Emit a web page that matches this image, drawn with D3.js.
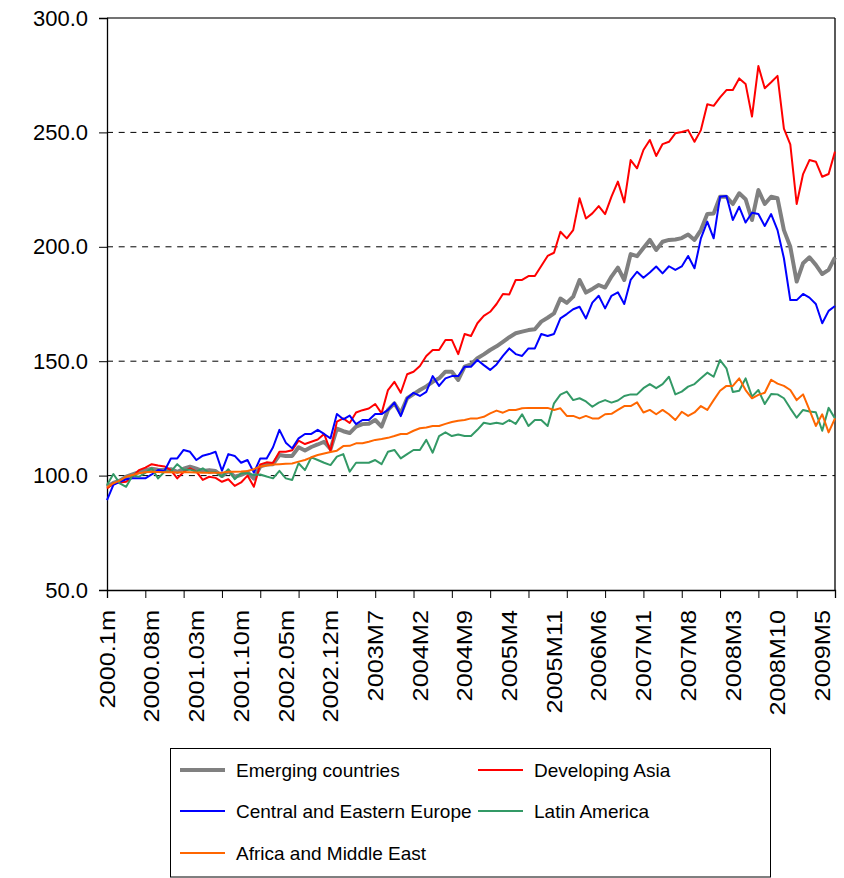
<!DOCTYPE html>
<html><head><meta charset="utf-8">
<script src="https://cdn.jsdelivr.net/npm/d3@7"></script>
<style>body{margin:0;background:#fff;}svg{display:block;font-family:"Liberation Sans",Arial,sans-serif;}</style>
</head><body><svg id="c" width="844" height="878"></svg>
<script>
// Monthly categories 2000M1 .. 2009M7 (115 points); labels every 7 months
const tickLabels = ["2000.1m","2000.08m","2001.03m","2001.10m","2002.05m","2002.12m","2003M7","2004M2","2004M9","2005M4","2005M11","2006M6","2007M1","2007M8","2008M3","2008M10","2009M5"];
const yTicks = [50,100,150,200,250,300];
const seriesNames = ["Emerging countries","Developing Asia","Central and Eastern Europe","Latin America","Africa and Middle East"];

const emerging = [95.1,96.8,97.8,99.5,100.5,101.5,102.4,103,102.6,102.5,102.8,101.6,103,103.9,103,102,102.4,102,99.8,102,99.5,100.3,101.5,98.7,104,104.8,105,109,108.6,108.6,112.4,111,112.5,113.6,114.8,111.6,120.5,119.4,118.6,121.4,122.5,122.7,124.3,121.4,128.7,131.6,127.2,133.8,135.6,137.4,139,141,142.5,145.4,145.4,141.8,147.6,148.6,151.3,153,154.9,156.5,158.5,160.5,162.2,162.9,163.6,164,167.3,169,170.9,177.4,175.5,178.2,185.5,180,181.6,183.3,182.2,187,190.9,185.5,196.8,195.9,199.5,203,198.6,202.2,203,203.2,203.8,205.4,203,207.3,214.3,214.6,221.9,221.9,218.7,223.4,220.8,211.7,224.8,218.7,221.9,221.2,207.3,200,184.8,192.8,195.4,192.1,188.1,189.9,195.4];
const devAsia = [94.4,96.6,97,97.3,99.5,102.4,103.5,105,104.4,104,102.4,98.8,101.6,103.2,101.7,98.1,99.5,99,97.3,98.4,95.5,97,100,95.1,104.9,105.8,105.5,110.4,110.4,111.1,115.3,113.8,114.8,115.8,118.2,110.7,123.6,125,123,127.6,128.6,129.3,131.3,127.2,137.4,141,136.2,144.3,145.4,147.9,152.3,154.9,154.9,159.3,159.3,153.1,161.9,161,166.6,169.8,171.6,175,179.4,179.2,185.5,185.5,187.2,187.2,191.6,196,197.4,206.6,203.7,207.3,221.2,212.4,214.6,217.8,214.3,221.9,228.5,219.4,237.9,234.3,242.3,246.7,239.7,244.9,245.9,249.6,250.2,251,245.9,251,262.3,261.6,265.3,268.5,268.5,273.6,271.2,256.9,279,269.3,271.9,274.7,251.6,244.8,218.7,231.8,237.9,237.2,230.6,231.8,241.6];
const ceEurope = [89.3,95.9,97.3,98.4,98.8,98.8,98.8,100.5,102.4,102,107.5,107.5,111.2,110.4,106.8,108.7,109.4,110.4,102.1,109.4,108.6,105.6,106.8,101.3,107.5,107.5,112.4,120,114.4,111.9,116.3,118.2,118.2,120,118.2,116.3,126.9,124.6,126.2,122.5,124.3,124.3,126.9,126.9,128.7,131.9,126,133.8,136.2,134.8,136.6,143.5,139.2,142.5,143.5,143.5,147.6,147.6,150.5,148.3,146.2,148.6,152.3,155.6,153.1,152.3,155.6,155.6,161.9,161,161.9,168.7,170.6,172.7,173.8,168.7,175.6,178.6,173.1,178.6,180.1,175,185.5,189.1,186.5,188.8,191.4,188.4,191.5,189.9,191.4,196,190.6,203.7,211,203.7,221.9,222.2,211.7,217.5,210.6,214.9,214.3,209.1,214.3,207.3,195,176.7,176.7,179.4,177.8,175,166.6,172,174.1];
const latAm = [95.9,100.7,96.6,95.1,100,99.5,101.2,103.2,98.8,101.7,101.7,105,102.6,102.6,101.7,103.2,101.2,101.6,99.5,102.8,98.4,101,101,100.3,100.5,99.6,98.8,102.1,98.8,98.1,105.4,102.4,108,106.8,105.6,104.6,108.3,109.4,101.7,105.6,105.6,105.6,106.8,105,110.4,111.2,107.5,109.4,111.2,111.2,115.6,110,117.3,118.9,117.3,118,117.3,117.3,120,123.1,122.6,123.1,122.6,124.3,122.6,126.8,121.7,124.3,124.3,121.7,131.6,135.4,136.7,133,133.8,132.4,130.1,131.9,133,131.9,132.8,134.8,135.5,135.5,138.2,140,138.2,140,143.2,135.5,136.7,138.9,140,142.5,145,143.2,150.5,146.9,136.5,137.1,142.5,134.5,137.4,131.3,135.7,135.5,133.8,129.4,125.3,128.7,128,127.7,119.6,129.6,125];
const afrME = [94.9,96.6,97.8,99.5,100.3,101,101.5,101.7,101.6,101.5,101.5,101.4,101.5,101.5,101.4,101.3,101.3,101.3,101.3,101.7,101.7,101.8,102,102.8,104,104.4,104.8,105,105.2,105.3,106.1,106.8,108,109,109.7,110.3,110.9,112.9,113,114.1,114.1,114.8,115.6,116,116.5,117.3,118.2,118.2,119.6,120.7,121,121.7,121.7,122.6,123.4,124,124.3,125,125,125.7,127.2,128.4,127.5,128.7,128.7,129.4,129.6,129.6,129.6,129.6,128.7,129.4,126.1,126.1,125,126.1,125,125,126.8,127,128.7,130.4,130.4,132,127.6,128.7,126.8,128.7,126.8,124.3,127.9,126.1,127.6,130.4,128.7,133,137.1,139.2,139.2,142.5,137.4,133.8,135.3,136.2,141.9,140.2,139.2,137.4,133,135.5,128.7,121.7,126.8,118.9,125];

const seriesValues = [emerging, devAsia, ceEurope, latAm, afrME];
const colors = ["#808080","#FF0000","#0000FF","#339966","#FF6600"];
const widths = [4,2,2,2,2];

const svg = d3.select("#c");
const L=107, R=835, T=18, B=590;
const n = emerging.length;
const x = d3.scaleLinear().domain([0, n-1]).range([L, R]);
const y = d3.scaleLinear().domain([50, 300]).range([B, T]);

// gridlines
svg.append("g").selectAll("line").data(yTicks.filter(v=>v>50 && v<300)).join("line")
  .attr("x1", L).attr("x2", R).attr("y1", d=>y(d)).attr("y2", d=>y(d))
  .attr("stroke","#000").attr("stroke-width",1).attr("stroke-dasharray","6,5.7");

// plot border top/right
svg.append("line").attr("x1",L).attr("x2",R).attr("y1",T).attr("y2",T).attr("stroke","#444").attr("stroke-width",1.3);
svg.append("line").attr("x1",R).attr("x2",R).attr("y1",T).attr("y2",B).attr("stroke","#000").attr("stroke-width",1.3);

// y axis
const yAxis = d3.axisLeft(y).tickValues(yTicks).tickSize(8).tickPadding(11).tickFormat(d3.format(".1f"));
const gy = svg.append("g").attr("transform",`translate(${L},0)`).call(yAxis);
gy.select(".domain").attr("stroke","#000").attr("stroke-width",1.3);
gy.selectAll(".tick line").attr("stroke","#000");
gy.selectAll("text").attr("font-size",22).attr("fill","#000").attr("font-family","Liberation Sans, Arial, sans-serif");

// x axis
const xAxis = d3.axisBottom(x).tickValues(d3.range(0, n, 6)).tickSize(8).tickFormat("");
const gx = svg.append("g").attr("transform",`translate(0,${B})`).call(xAxis);
gx.select(".domain").attr("stroke","#000").attr("stroke-width",1.3);
gx.selectAll(".tick line").attr("stroke","#000");

// x labels
const xl = svg.append("g").selectAll("text").data(tickLabels).join("text")
  .attr("transform",(d,i)=>`translate(${x(i*7)},610) rotate(-90)`)
  .attr("text-anchor","end").attr("dy","0.35em")
  .attr("font-size",22).attr("fill","#000").text(d=>d);
xl.each(function(){ const l=this.getComputedTextLength(); d3.select(this).attr("textLength", l*1.15).attr("lengthAdjust","spacingAndGlyphs"); });

// lines
const line = d3.line().x((d,i)=>x(i)).y(d=>y(d)).curve(d3.curveLinear);
svg.append("g").selectAll("path").data(seriesValues).join("path")
  .attr("d", d=>line(d)).attr("fill","none")
  .attr("stroke",(d,i)=>colors[i]).attr("stroke-width",(d,i)=>widths[i])
  .attr("stroke-linejoin","round");

// legend
const lg = svg.append("g");
lg.append("rect").attr("x",170.5).attr("y",748.5).attr("width",600).attr("height",128.5).attr("fill","#fff").attr("stroke","#000").attr("stroke-width",1);
const legPos = [[180,770],[478,770],[180,811],[478,811],[180,853]];
seriesNames.forEach((nm,i)=>{
  const [lx,ly] = legPos[i];
  lg.append("line").attr("x1",lx).attr("x2",lx+45).attr("y1",ly).attr("y2",ly).attr("stroke",colors[i]).attr("stroke-width",widths[i]);
  lg.append("text").attr("x",lx+56).attr("y",ly).attr("dy","0.35em").attr("font-size",19).attr("fill","#000").text(nm);
});
</script></body></html>
